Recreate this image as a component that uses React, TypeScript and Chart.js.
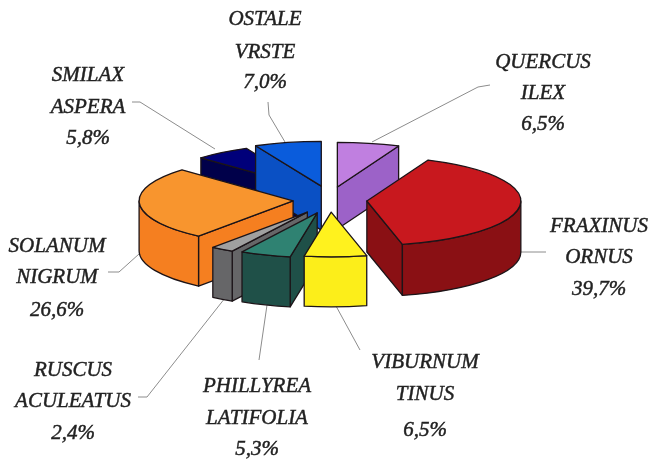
import React, { useEffect, useRef } from "react";
import { Chart, registerables } from "chart.js";

Chart.register(...registerables);

const species = ["QUERCUS ILEX", "FRAXINUS ORNUS", "VIBURNUM TINUS", "PHILLYREA LATIFOLIA", "RUSCUS ACULEATUS", "SOLANUM NIGRUM", "SMILAX ASPERA", "OSTALE VRSTE"];
const shares = [6.5, 39.7, 6.5, 5.3, 2.4, 26.6, 5.8, 7.0];
const shareLabels = ["6,5%", "39,7%", "6,5%", "5,3%", "2,4%", "26,6%", "5,8%", "7,0%"];
const topColors = ["#C07FE0", "#C8181E", "#FFF21E", "#2F8272", "#A0A0A0", "#F8952E", "#00007A", "#0A5CDC"];
const wallColors = ["#9C62C8", "#8A1014", "#FCEE1A", "#1F5048", "#666668", "#F57F20", "#00004A", "#0A50C4"];
const explode = [46, 39, 42, 47, 50, 37, 48, 49];
const explodeNudgeX = [0, 0, 2, 5, 7, 2, 12, 4];
const wallDepth = [42, 51, 50, 50, 50, 50, 44, 44];
const paintOrder = [6, 7, 0, 5, 1, 4, 3, 2];

const labelLines = [
  ["QUERCUS", "ILEX", "6,5%"],
  ["FRAXINUS", "ORNUS", "39,7%"],
  ["VIBURNUM", "TINUS", "6,5%"],
  ["PHILLYREA", "LATIFOLIA", "5,3%"],
  ["RUSCUS", "ACULEATUS", "2,4%"],
  ["SOLANUM", "NIGRUM", "26,6%"],
  ["SMILAX", "ASPERA", "5,8%"],
  ["OSTALE", "VRSTE", "7,0%"],
];
const labelCenterX = [543, 599, 425, 257, 73, 57, 88, 265];
const labelBaselines = [
  [68, 99, 130],
  [232, 263, 295],
  [368, 400, 436],
  [392, 424, 455],
  [376, 407, 439],
  [252, 283, 316],
  [81, 113, 144],
  [25, 58, 88],
];
const leaders = [
  [[372, 142], [478, 87], [490, 85]],
  [[520, 252], [546, 252]],
  [[336, 306], [360, 350]],
  [[267, 305], [259, 360]],
  [[225, 298], [147, 397], [138, 397]],
  [[139, 254], [119, 272], [108, 272]],
  [[132, 102], [140, 102], [215, 149]],
  [[268, 102], [269, 115], [285, 142]],
];

const TILT = 0.29;
const OUTLINE = "#1c1418";

const pie3d = {
  id: "pie3d",
  beforeDatasetsDraw(chart: any) {
    const ctx: CanvasRenderingContext2D = chart.ctx;
    const arcs = chart.getDatasetMeta(0).data;

    ctx.save();
    ctx.strokeStyle = "#8c8c8c";
    ctx.lineWidth = 1;
    for (const pts of leaders) {
      ctx.beginPath();
      pts.forEach(([x, y], i) => (i ? ctx.lineTo(x, y) : ctx.moveTo(x, y)));
      ctx.stroke();
    }
    ctx.restore();

    for (const i of paintOrder) {
      const arc = arcs[i];
      const { x, y, startAngle: a0, endAngle: a1, outerRadius: r } = arc;
      const off = arc.options.offset || 0;
      const mid = (a0 + a1) / 2;
      const ax = x + Math.cos(mid) * off + explodeNudgeX[i];
      const ay = y + Math.sin(mid) * off * TILT;
      const d = wallDepth[i];
      const px = (t: number) => ax + Math.cos(t) * r;
      const py = (t: number) => ay + Math.sin(t) * r * TILT;

      ctx.save();
      ctx.lineJoin = "round";
      ctx.lineWidth = 1.3;
      ctx.strokeStyle = OUTLINE;
      ctx.fillStyle = wallColors[i];

      const radial = (t: number) => {
        ctx.beginPath();
        ctx.moveTo(ax, ay);
        ctx.lineTo(px(t), py(t));
        ctx.lineTo(px(t), py(t) + d);
        ctx.lineTo(ax, ay + d);
        ctx.closePath();
        ctx.fill();
        ctx.stroke();
      };
      if (Math.cos(a0) < -1e-6) radial(a0);
      if (Math.cos(a1) > 1e-6) radial(a1);

      const b0 = Math.max(a0, 0);
      const b1 = Math.min(a1, Math.PI);
      if (b1 > b0) {
        ctx.beginPath();
        ctx.ellipse(ax, ay, r, r * TILT, 0, b0, b1);
        ctx.lineTo(px(b1), py(b1) + d);
        ctx.ellipse(ax, ay + d, r, r * TILT, 0, b1, b0, true);
        ctx.closePath();
        ctx.fill();
        ctx.stroke();
      }

      ctx.fillStyle = arc.options.backgroundColor;
      ctx.beginPath();
      ctx.moveTo(ax, ay);
      ctx.ellipse(ax, ay, r, r * TILT, 0, a0, a1);
      ctx.closePath();
      ctx.fill();
      ctx.stroke();
      ctx.restore();
    }
    return false;
  },
  afterDraw(chart: any) {
    const ctx: CanvasRenderingContext2D = chart.ctx;
    ctx.save();
    ctx.fillStyle = "#222222";
    ctx.strokeStyle = "#222222";
    ctx.lineWidth = 0.45;
    ctx.font = 'italic 21px "Liberation Serif"';
    ctx.textAlign = "center";
    ctx.textBaseline = "alphabetic";
    labelLines.forEach((lines, i) => {
      lines.forEach((text, j) => {
        ctx.fillText(text, labelCenterX[i], labelBaselines[i][j]);
        ctx.strokeText(text, labelCenterX[i], labelBaselines[i][j]);
      });
    });
    ctx.restore();
  },
};

export default function App() {
  const ref = useRef<HTMLCanvasElement | null>(null);
  useEffect(() => {
    const chart = new Chart(ref.current as HTMLCanvasElement, {
      type: "pie",
      data: {
        labels: species,
        datasets: [
          {
            data: shares,
            backgroundColor: topColors,
            offset: explode,
            borderWidth: 0,
            radius: 154,
          } as any,
        ],
      },
      options: {
        animation: false,
        responsive: false,
        events: [],
        layout: { padding: { left: 6, bottom: 60 } },
        plugins: { legend: { display: false }, tooltip: { enabled: false } },
      },
      plugins: [pie3d],
    });
    return () => chart.destroy();
  }, []);
  return (
    <div style={{ position: "absolute", left: 0, top: 0, background: "#fff" }}>
      <canvas ref={ref} width={650} height={460} style={{ display: "block" }} aria-label={shareLabels.join(" ")} />
    </div>
  );
}
